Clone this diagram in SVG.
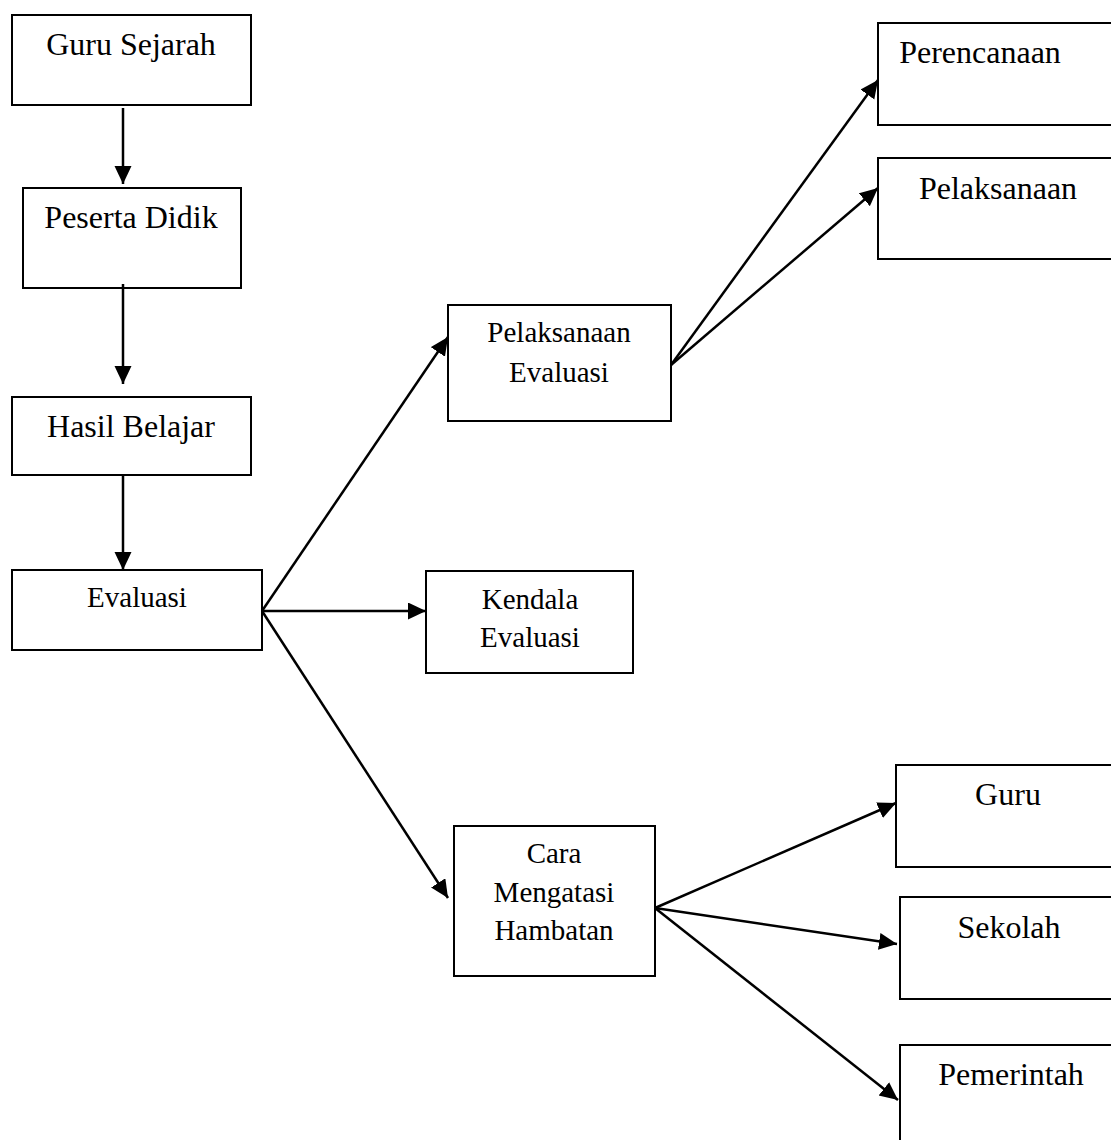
<svg xmlns="http://www.w3.org/2000/svg" width="1111" height="1140" viewBox="0 0 1111 1140">
<style>
rect{fill:#fff;stroke:#000;stroke-width:2}
text{font-family:"Liberation Serif","Times New Roman",serif;fill:#000;text-anchor:middle}
.l{font-size:32px}
.s{font-size:29px}
#connectors line{stroke:#000;stroke-width:2.5;marker-end:url(#ah)}
</style>
<defs>
<marker id="ah" markerUnits="userSpaceOnUse" markerWidth="20" markerHeight="18" refX="18" refY="8.5" orient="auto">
<path d="M0,0 L18,8.5 L0,17 z" fill="#000"/>
</marker>
</defs>
<rect x="0" y="0" width="1111" height="1140" style="stroke:none"/>
<g id="n-guru-sejarah"><rect x="12" y="15" width="239" height="90"/><text class="l" x="131" y="55">Guru Sejarah</text></g>
<g id="n-peserta-didik"><rect x="23" y="188" width="218" height="100"/><text class="l" x="131" y="228">Peserta Didik</text></g>
<g id="n-hasil-belajar"><rect x="12" y="397" width="239" height="78"/><text class="l" x="131" y="437">Hasil Belajar</text></g>
<g id="n-evaluasi"><rect x="12" y="570" width="250" height="80"/><text class="s" x="137" y="607">Evaluasi</text></g>
<g id="n-pelaksanaan-evaluasi"><rect x="448" y="305" width="223" height="116"/><text class="s" x="559" y="342">Pelaksanaan</text><text class="s" x="559" y="382">Evaluasi</text></g>
<g id="n-kendala-evaluasi"><rect x="426" y="571" width="207" height="102"/><text class="s" x="530" y="609">Kendala</text><text class="s" x="530" y="647">Evaluasi</text></g>
<g id="n-cara"><rect x="454" y="826" width="201" height="150"/><text class="s" x="554" y="863">Cara</text><text class="s" x="554" y="902">Mengatasi</text><text class="s" x="554" y="940">Hambatan</text></g>
<g id="n-perencanaan"><rect x="878" y="23" width="240" height="102"/><text class="l" x="980" y="63">Perencanaan</text></g>
<g id="n-pelaksanaan"><rect x="878" y="158" width="240" height="101"/><text class="l" x="998" y="199">Pelaksanaan</text></g>
<g id="n-guru"><rect x="896" y="765" width="222" height="102"/><text class="l" x="1008" y="805">Guru</text></g>
<g id="n-sekolah"><rect x="900" y="897" width="218" height="102"/><text class="l" x="1009" y="938">Sekolah</text></g>
<g id="n-pemerintah"><rect x="900" y="1045" width="218" height="110"/><text class="l" x="1011" y="1085">Pemerintah</text></g>
<g id="connectors">
<line x1="123" y1="108" x2="123" y2="184"/>
<line x1="123" y1="284" x2="123" y2="384"/>
<line x1="123" y1="475" x2="123" y2="570"/>
<line x1="262" y1="611" x2="448" y2="337"/>
<line x1="262" y1="611" x2="426" y2="611"/>
<line x1="262" y1="611" x2="448" y2="898"/>
<line x1="671" y1="365" x2="878" y2="80"/>
<line x1="671" y1="365" x2="878" y2="188"/>
<line x1="655" y1="908" x2="896" y2="803"/>
<line x1="655" y1="908" x2="897" y2="944"/>
<line x1="655" y1="908" x2="898" y2="1100"/>
</g>
</svg>
